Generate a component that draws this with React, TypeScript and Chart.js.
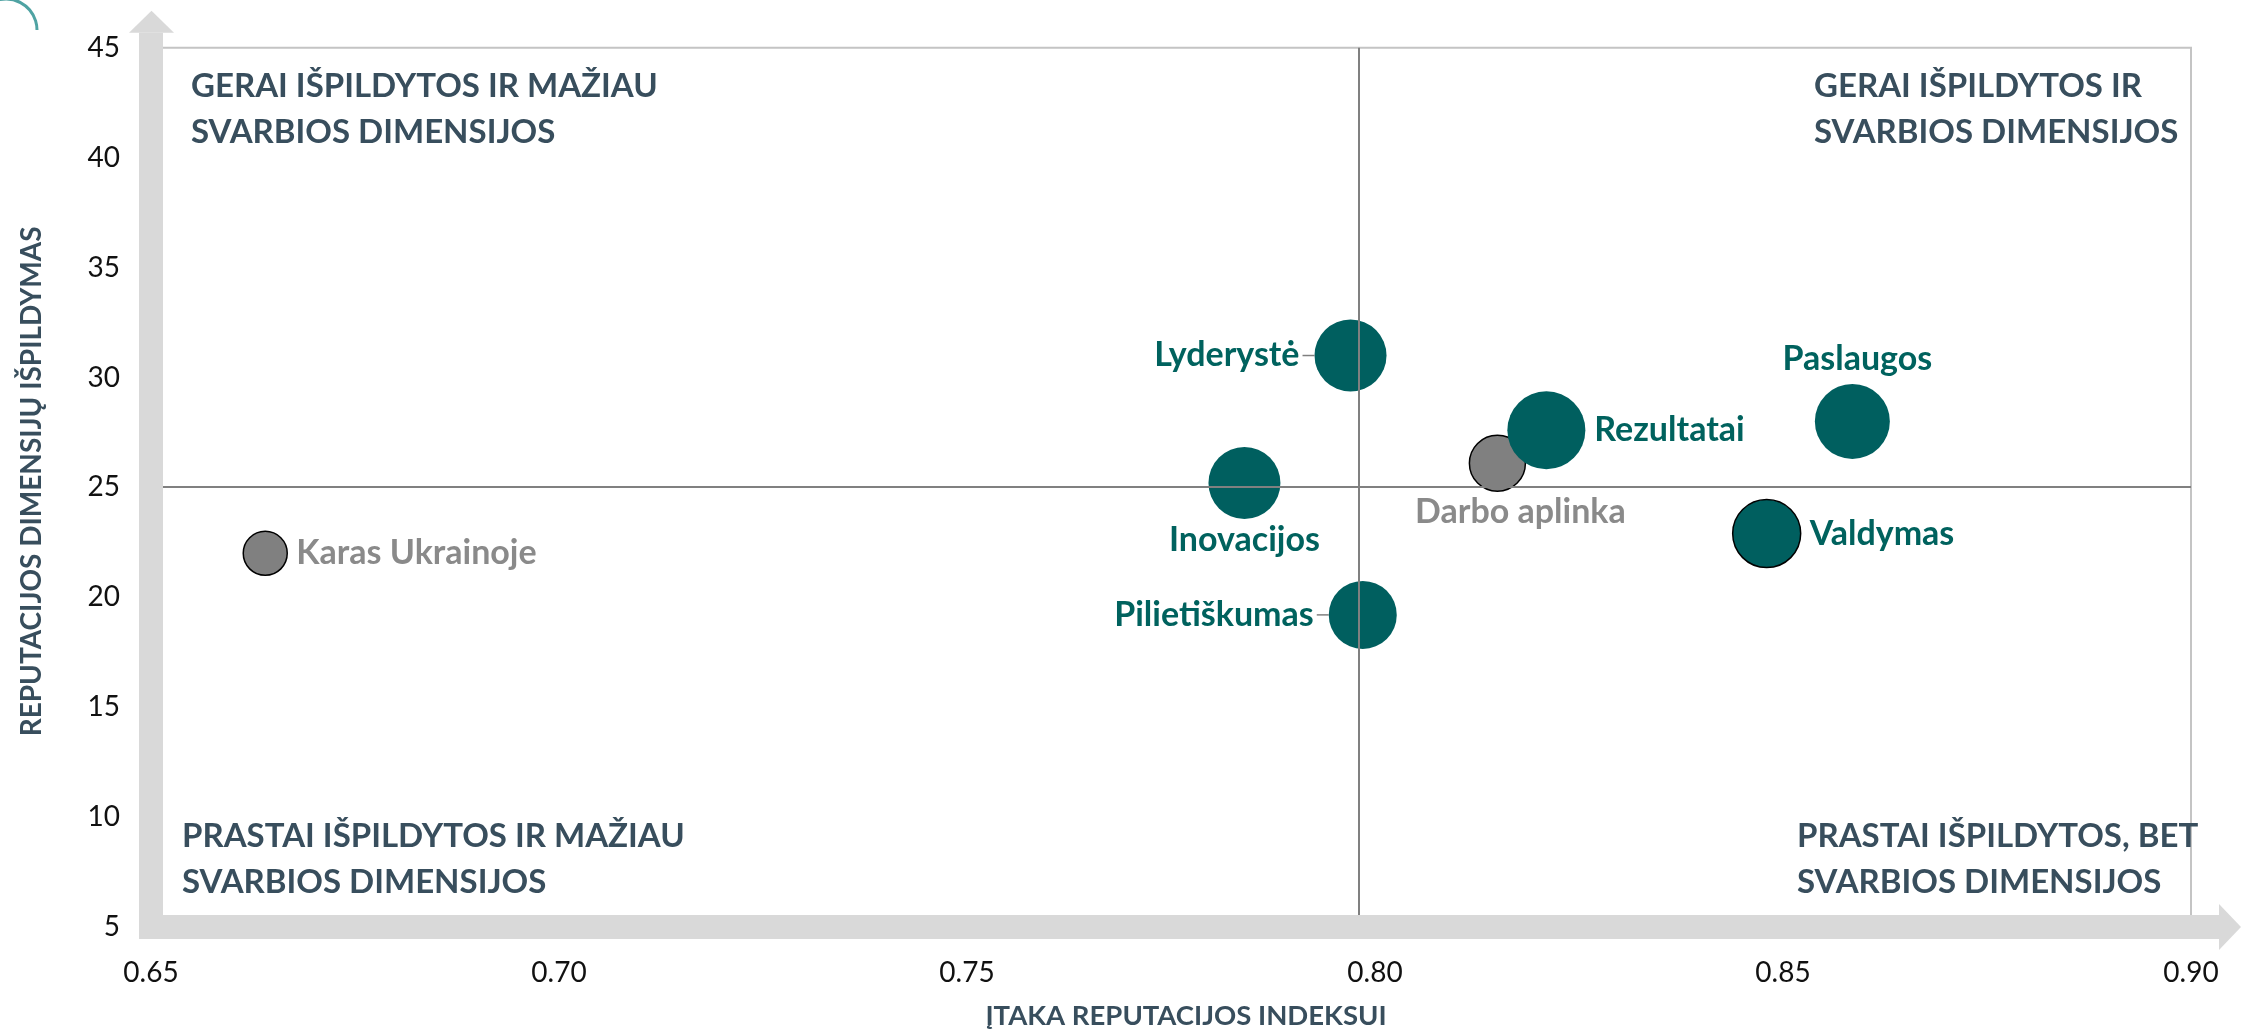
import React, { useEffect, useRef } from "react";
import { Chart, registerables } from "chart.js";

Chart.register(...registerables);

// ---------- DATA ----------
const dimensions = [
  "Lyderystė",
  "Inovacijos",
  "Rezultatai",
  "Darbo aplinka",
  "Paslaugos",
  "Valdymas",
  "Pilietiškumas",
  "Karas Ukrainoje",
];
const influence = [0.797, 0.784, 0.821, 0.815, 0.8585, 0.848, 0.7985, 0.664];
const performance = [31.0, 25.2, 27.6, 26.1, 28.0, 22.9, 19.2, 22.0];
const bubbleSize = [36, 36, 39, 28, 37.5, 34, 34, 22];
const contextGroup = [false, false, false, true, false, false, false, true];

const xTicks = [0.65, 0.7, 0.75, 0.8, 0.85, 0.9];
const yTicks = [5, 10, 15, 20, 25, 30, 35, 40, 45];
const dividerX = 0.798;
const dividerY = 25;

const xTitle = "ĮTAKA REPUTACIJOS INDEKSUI";
const yTitle = "REPUTACIJOS DIMENSIJŲ IŠPILDYMAS";
const quadrantTL = ["GERAI IŠPILDYTOS IR MAŽIAU", "SVARBIOS DIMENSIJOS"];
const quadrantTR = ["GERAI IŠPILDYTOS IR", "SVARBIOS DIMENSIJOS"];
const quadrantBL = ["PRASTAI IŠPILDYTOS IR MAŽIAU", "SVARBIOS DIMENSIJOS"];
const quadrantBR = ["PRASTAI IŠPILDYTOS, BET", "SVARBIOS DIMENSIJOS"];

// ---------- STYLE ----------
const TEAL = "#005F5F";
const TEAL_TEXT = "#00625E";
const GRAY = "#808080";
const GRAY_TEXT = "#8A8A8A";
const SLATE = "#384E5D";
const BAND = "#D9D9D9";
const FONT = "Lato, 'Open Sans', sans-serif";

const labelPlacement: Record<string, { side: string; dx?: number; leader?: boolean }> = {
  "Lyderystė": { side: "left", leader: true },
  "Inovacijos": { side: "below" },
  "Rezultatai": { side: "right" },
  "Darbo aplinka": { side: "below", dx: 23 },
  "Paslaugos": { side: "above", dx: 5 },
  "Valdymas": { side: "right" },
  "Pilietiškumas": { side: "left", leader: true },
  "Karas Ukrainoje": { side: "right" },
};
const outlined: Record<string, boolean> = { "Valdymas": true };

const decorPlugin = {
  id: "decor",
  beforeDraw(chart: any) {
    const { ctx, width, height } = chart;
    ctx.save();
    ctx.fillStyle = "#FFFFFF";
    ctx.fillRect(0, 0, width, height);
    // decorative arc top-left
    ctx.strokeStyle = "#4FA3A3";
    ctx.lineWidth = 3;
    ctx.beginPath();
    ctx.arc(6, 30, 31, -Math.PI / 2 - 0.3, 0);
    ctx.stroke();
    ctx.restore();
  },
  beforeDatasetsDraw(chart: any) {
    const { ctx, chartArea } = chart;
    const { left, right, top, bottom } = chartArea;
    ctx.save();
    // plot border
    ctx.strokeStyle = "#C4C4C4";
    ctx.lineWidth = 2;
    ctx.beginPath();
    ctx.moveTo(left, top);
    ctx.lineTo(right, top);
    ctx.lineTo(right, bottom);
    ctx.stroke();
    // axis bands with arrows
    ctx.fillStyle = BAND;
    const hw = 12;
    ctx.fillRect(left - hw, top - 15, hw * 2, bottom + hw - (top - 15));
    ctx.beginPath();
    ctx.moveTo(left - 22, top - 15);
    ctx.lineTo(left + 23, top - 15);
    ctx.lineTo(left + 0.5, top - 37);
    ctx.closePath();
    ctx.fill();
    ctx.fillRect(left - hw, bottom - hw, right + 28 - (left - hw), hw * 2);
    ctx.beginPath();
    ctx.moveTo(right + 28, bottom - 23);
    ctx.lineTo(right + 28, bottom + 23);
    ctx.lineTo(right + 50, bottom);
    ctx.closePath();
    ctx.fill();
    // quadrant labels
    ctx.fillStyle = SLATE;
    ctx.font = `bold 33px ${FONT}`;
    ctx.textBaseline = "middle";
    ctx.textAlign = "left";
    const drawLines = (lines: string[], x: number, y: number) => {
      lines.forEach((l, i) => ctx.fillText(l, x, y + i * 46));
    };
    drawLines(quadrantTL, left + 40, top + 39);
    drawLines(quadrantTR, right - 377, top + 39);
    drawLines(quadrantBL, left + 31, bottom - 91);
    drawLines(quadrantBR, right - 394, bottom - 91);
    ctx.restore();
  },
  afterDatasetsDraw(chart: any) {
    const { ctx, chartArea, scales } = chart;
    const { left, right, top, bottom } = chartArea;
    const xs = scales.x;
    const ys = scales.y;
    ctx.save();
    // divider lines
    ctx.strokeStyle = "#808080";
    ctx.lineWidth = 2;
    const dx = Math.round(xs.getPixelForValue(dividerX));
    const dy = Math.round(ys.getPixelForValue(dividerY));
    ctx.beginPath();
    ctx.moveTo(dx, top);
    ctx.lineTo(dx, bottom - 12);
    ctx.moveTo(left + 12, dy);
    ctx.lineTo(right, dy);
    ctx.stroke();

    // point labels
    ctx.font = `bold 34px ${FONT}`;
    ctx.textBaseline = "middle";
    chart.data.datasets.forEach((ds: any, di: number) => {
      const meta = chart.getDatasetMeta(di);
      meta.data.forEach((el: any, i: number) => {
        const name = ds.names[i];
        const p = labelPlacement[name] || { side: "right" };
        const r = ds.data[i].r;
        const cx = el.x;
        const cy = el.y;
        ctx.fillStyle = ds.textColor;
        let tx = cx;
        let ty = cy;
        if (p.side === "right") {
          ctx.textAlign = "left";
          tx = cx + r + 9;
        } else if (p.side === "left") {
          ctx.textAlign = "right";
          tx = cx - r - 15;
          if (p.leader) {
            ctx.strokeStyle = "#7F7F7F";
            ctx.lineWidth = 1.5;
            ctx.beginPath();
            ctx.moveTo(cx - r - 12, cy);
            ctx.lineTo(cx - r, cy);
            ctx.stroke();
          }
        } else if (p.side === "above") {
          ctx.textAlign = "center";
          ty = cy - r - 25;
        } else {
          ctx.textAlign = "center";
          ty = cy + r + 21;
        }
        tx += p.dx || 0;
        ctx.fillText(name, tx, ty);
      });
    });

    // axis titles
    ctx.fillStyle = SLATE;
    ctx.textAlign = "center";
    ctx.textBaseline = "middle";
    ctx.font = `bold 27.5px ${FONT}`;
    ctx.fillText(xTitle, (left + right) / 2 + 15, 1016);
    ctx.save();
    ctx.translate(32, (top + bottom) / 2 - 6);
    ctx.rotate(-Math.PI / 2);
    ctx.font = `bold 28px ${FONT}`;
    ctx.fillText(yTitle, 0, 0);
    ctx.restore();
    ctx.restore();
  },
};

function buildDataset(context: boolean) {
  const idx = dimensions.map((_, i) => i).filter((i) => contextGroup[i] === context);
  const names = idx.map((i) => dimensions[i]);
  return {
    label: context ? "Kontekstas" : "Dimensijos",
    names,
    textColor: context ? GRAY_TEXT : TEAL_TEXT,
    data: idx.map((i) => ({ x: influence[i], y: performance[i], r: bubbleSize[i] })),
    backgroundColor: context ? GRAY : TEAL,
    borderColor: "#000000",
    borderWidth: names.map((n) => (context || outlined[n] ? 1.5 : 0)),
    clip: false,
  };
}

export default function App() {
  const ref = useRef<HTMLCanvasElement | null>(null);
  useEffect(() => {
    if (!ref.current) return;
    const chart = new Chart(ref.current, {
      type: "bubble",
      data: {
        datasets: [buildDataset(false), buildDataset(true)] as any,
      },
      options: {
        animation: false,
        responsive: false,
        devicePixelRatio: 1,
        events: [],
        layout: { padding: { left: 0, top: 43, right: 66, bottom: 0 } },
        plugins: {
          legend: { display: false },
          tooltip: { enabled: false },
          title: { display: false },
        },
        scales: {
          x: {
            type: "linear",
            min: xTicks[0],
            max: xTicks[xTicks.length - 1],
            afterBuildTicks: (s: any) => {
              s.ticks = xTicks.map((v) => ({ value: v }));
            },
            afterFit: (s: any) => {
              s.height = 102;
            },
            grid: { display: false, drawTicks: false },
            border: { display: false },
            ticks: {
              padding: 29,
              color: "#111111",
              font: { family: FONT, size: 28 },
              callback: (v: any) => Number(v).toFixed(2),
              maxRotation: 0,
              autoSkip: false,
            },
          },
          y: {
            type: "linear",
            min: yTicks[0],
            max: yTicks[yTicks.length - 1],
            afterBuildTicks: (s: any) => {
              s.ticks = yTicks.map((v) => ({ value: v }));
            },
            afterFit: (s: any) => {
              s.width = 151;
            },
            grid: { display: false, drawTicks: false },
            border: { display: false },
            ticks: {
              padding: 31,
              color: "#111111",
              font: { family: FONT, size: 28 },
              autoSkip: false,
            },
          },
        },
      } as any,
      plugins: [decorPlugin],
    });
    return () => chart.destroy();
  }, []);
  return (
    <div style={{ position: "fixed", left: 0, top: 0, width: 2257, height: 1029, background: "#fff" }}>
      <canvas ref={ref} width={2257} height={1029} style={{ display: "block", width: 2257, height: 1029 }} />
    </div>
  );
}
